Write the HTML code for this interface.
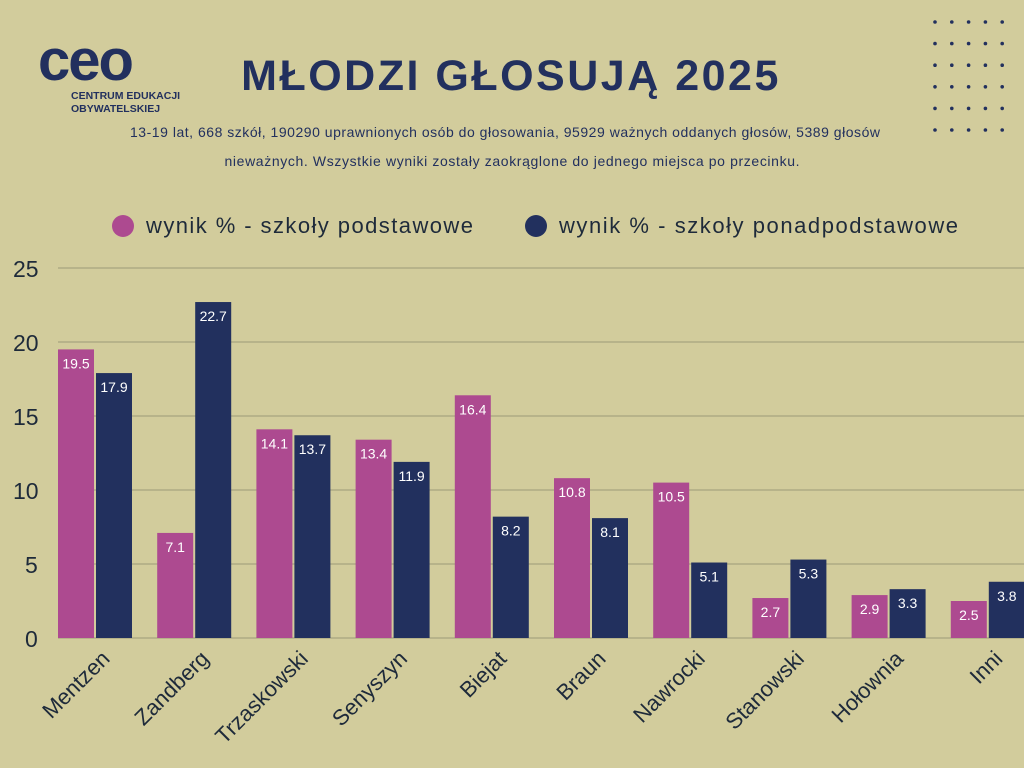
<!DOCTYPE html>
<html><head><meta charset="utf-8"><style>
body{margin:0;background:#d2cc9c;}
svg{display:block;font-family:"Liberation Sans","DejaVu Sans",sans-serif;}
</style></head><body>
<svg width="1024" height="768" viewBox="0 0 1024 768">
<rect width="1024" height="768" fill="#d2cc9c"/>
<text x="38" y="80" font-size="58" font-weight="bold" fill="#22305e" letter-spacing="-2">ceo</text>
<text x="71" y="99" font-size="10.5" font-weight="bold" fill="#22305e">CENTRUM EDUKACJI</text>
<text x="71" y="112" font-size="10.5" font-weight="bold" fill="#22305e">OBYWATELSKIEJ</text>
<text x="511" y="90" text-anchor="middle" font-size="43" font-weight="bold" fill="#22305e" letter-spacing="2.5">MŁODZI GŁOSUJĄ 2025</text>
<text x="505" y="137" text-anchor="middle" font-size="14" fill="#22305e" textLength="750">13-19 lat, 668 szkół, 190290 uprawnionych osób do głosowania, 95929 ważnych oddanych głosów, 5389 głosów</text>
<text x="512" y="166" text-anchor="middle" font-size="14" fill="#22305e" textLength="575">nieważnych. Wszystkie wyniki zostały zaokrąglone do jednego miejsca po przecinku.</text>
<g fill="#22305e" id="dots"></g>
<circle cx="123" cy="226" r="11" fill="#ad4a90"/>
<text x="146" y="233" font-size="22" fill="#1e2a3a" textLength="327">wynik % - szkoły podstawowe</text>
<circle cx="536" cy="226" r="11" fill="#22305e"/>
<text x="559" y="233" font-size="22" fill="#1e2a3a" textLength="399">wynik % - szkoły ponadpodstawowe</text>
<g stroke="#b7b38a" stroke-width="2">
<line x1="58" y1="268" x2="1024" y2="268"/><line x1="58" y1="342" x2="1024" y2="342"/>
<line x1="58" y1="416" x2="1024" y2="416"/><line x1="58" y1="490" x2="1024" y2="490"/>
<line x1="58" y1="564" x2="1024" y2="564"/><line x1="58" y1="638" x2="1024" y2="638"/>
</g>
<g font-size="23" fill="#1e2a3a">
<text x="13" y="277">25</text><text x="13" y="351">20</text><text x="13" y="425">15</text>
<text x="13" y="499">10</text><text x="25" y="573">5</text><text x="25" y="647">0</text>
</g>
<g id="bars"></g>
<script>
var d=[["Mentzen",19.5,17.9],["Zandberg",7.1,22.7],["Trzaskowski",14.1,13.7],["Senyszyn",13.4,11.9],["Biejat",16.4,8.2],["Braun",10.8,8.1],["Nawrocki",10.5,5.1],["Stanowski",2.7,5.3],["Hołownia",2.9,3.3],["Inni",2.5,3.8]];
var ns="http://www.w3.org/2000/svg",g=document.getElementById("bars");
function el(t,a,txt){var e=document.createElementNS(ns,t);for(var k in a)e.setAttribute(k,a[k]);if(txt)e.textContent=txt;g.appendChild(e);return e;}
d.forEach(function(r,i){var x=58+i*99.2;
[[r[1],x,"#ad4a90"],[r[2],x+38,"#22305e"]].forEach(function(b){var h=b[0]*14.8;
el("rect",{x:b[1],y:638-h,width:36,height:h,fill:b[2]});
el("text",{x:b[1]+18,y:638-h+19,"text-anchor":"middle","font-size":"14",fill:"#fff"},b[0].toFixed(1));});
var cx=x+45;el("text",{x:cx+8,y:660,"text-anchor":"end","font-size":"22",fill:"#1e2a3a",transform:"rotate(-45 "+(cx+8)+" 660)"},r[0]);});
var dg=document.getElementById("dots");
for(var c=0;c<5;c++)for(var rr=0;rr<6;rr++){var e=document.createElementNS(ns,"circle");e.setAttribute("cx",935+c*16.8);e.setAttribute("cy",22+rr*21.6);e.setAttribute("r",1.8);dg.appendChild(e);}
</script>
</svg>
</body></html>
